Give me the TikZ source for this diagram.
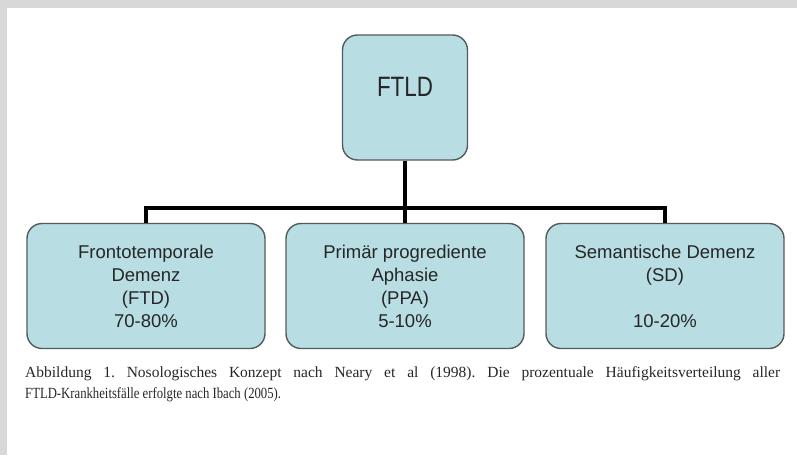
\documentclass[tikz,border=0pt]{standalone}
\usepackage{fontspec}
\setmainfont{Liberation Serif}
\newfontfamily\boxfont{Liberation Sans}
\definecolor{boxfill}{RGB}{184,221,227}
\definecolor{boxline}{RGB}{85,90,92}
\definecolor{framegray}{RGB}{216,216,216}
\tikzset{
  kastenbox/.style={draw=boxline, line width=1.4pt, fill=boxfill, rounded corners=15pt,
    minimum width=238pt, minimum height=125pt, inner sep=0pt, align=center,
    text=black!85, font=\boxfont\fontsize{18.5}{23}\selectfont},
  topbox/.style={kastenbox, minimum width=125pt, minimum height=125pt,
    font=\boxfont\fontsize{28}{32}\selectfont},
  verbindung/.style={line width=4pt, black}
}
\newcommand{\schmal}[1]{\scalebox{0.82}[1]{#1}}
\begin{document}
\begin{tikzpicture}[x=1pt,y=-1pt]
  \useasboundingbox (0,0) rectangle (797,455);
  {
  % Drawing the gray frame
  \fill [framegray] (0,0) rectangle (797,8);%
  \fill [framegray] (0,0) rectangle (7,455);%

  % Marking box FTLD
  \node [topbox] (ftld) at (405,97.5) {\scalebox{0.8}[1]{FTLD}\\[-10pt]\mbox{}};%

  % Marking box FTD
  \node [kastenbox] (ftd) at (146,286) {Frontotemporale\\Demenz\\(FTD)\\70-80\%};%

  % Marking box PPA
  \node [kastenbox] (ppa) at (405,286) {Primär progrediente\\Aphasie\\(PPA)\\5-10\%};%

  % Marking box SD
  \node [kastenbox] (sd) at (665,286) {Semantische Demenz\\(SD)\\\mbox{}\\10-20\%};%

  % Drawing segment FTLD FTD
  \draw [verbindung] (ftld.south) -- ++(0,47) -| (ftd.north);%

  % Drawing segment FTLD PPA
  \draw [verbindung] (ftld.south) -- (ppa.north);%

  % Drawing segment FTLD SD
  \draw [verbindung] (ftld.south) -- ++(0,47) -| (sd.north);%

  % Marking the caption
  \node [anchor=north west, align=left, inner sep=0pt, text=black!85,
    font=\fontsize{15.5}{21}\selectfont\frenchspacing]
    (caption) at (25,366) {\makebox[755pt][s]{Abbildung 1. Nosologisches Konzept nach Neary et al (1998). Die prozentuale Häufigkeitsverteilung aller}\\
    \schmal{FTLD-Krankheitsfälle erfolgte nach Ibach (2005).}};%
  }
\end{tikzpicture}
\end{document}
